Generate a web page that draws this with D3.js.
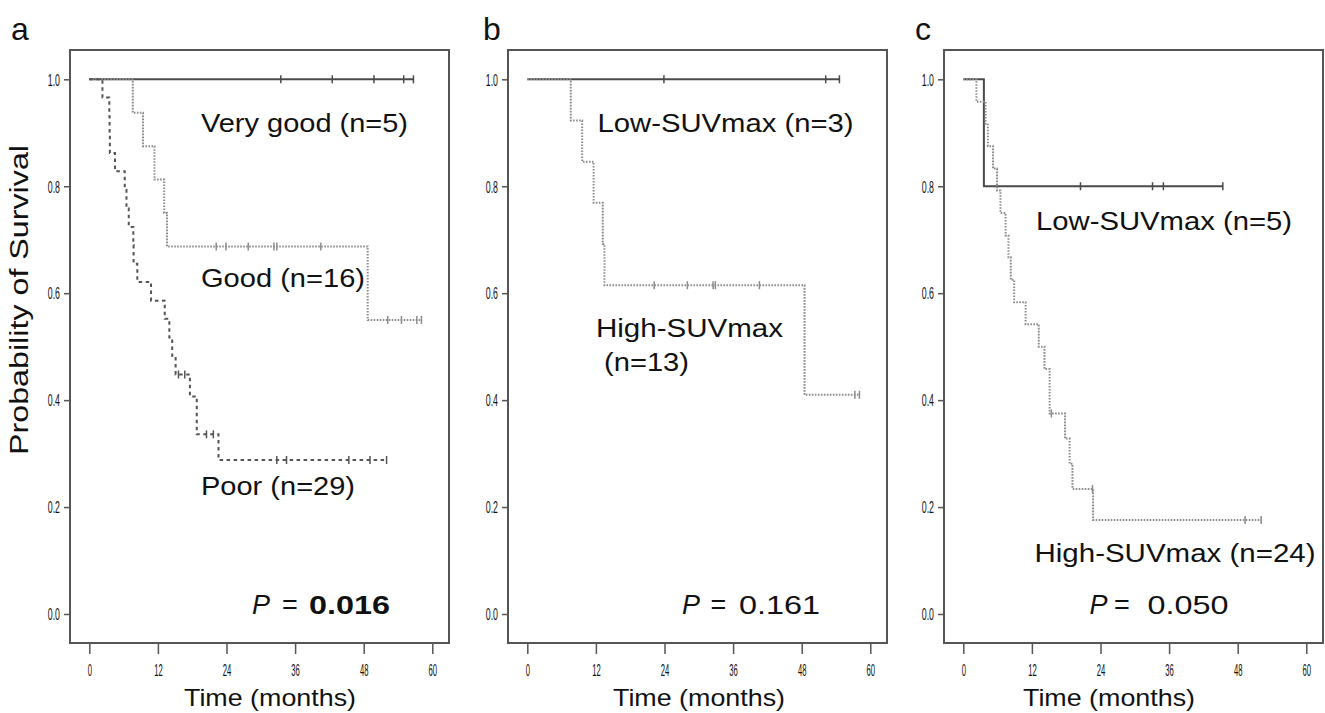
<!DOCTYPE html>
<html><head><meta charset="utf-8">
<script src="https://cdn.jsdelivr.net/npm/d3@7/dist/d3.min.js"></script>
<style>
body{margin:0;background:#fff}
svg{display:block}
text{font-family:"Liberation Sans",Arial,Helvetica,sans-serif;fill:#111}
</style>
</head><body>
<svg id="chart" width="1325" height="713"></svg>
<script>
// ---------------- DATA ----------------
const xTicks = [0, 12, 24, 36, 48, 60];
const yTicks = [0, 0.2, 0.4, 0.6, 0.8, 1.0];
const yTickLabels = ["0.0", "0.2", "0.4", "0.6", "0.8", "1.0"];
const panelLetters = ["a", "b", "c"];
const xTitle = "Time (months)";
const yTitle = "Probability of Survival";

// Panel a: each event = [time, survival after event]
const aVeryGoodEvents = [];
const aVeryGoodEnd = 56.7;
const aVeryGoodCensor = [33.5, 42.5, 49.8, 55.0, 56.7];

const aGoodEvents = [[7.6, 0.9375], [9.4, 0.875], [11.4, 0.8125], [13.1, 0.75], [13.6, 0.6875], [48.7, 0.55]];
const aGoodEnd = 58.1;
const aGoodCensor = [22.2, 23.9, 27.8, 32.3, 32.8, 40.5, 52.2, 54.6, 57.3, 58.1];

const aPoorEvents = [[2.3, 0.966], [3.5, 0.931], [3.55, 0.897], [3.6, 0.862], [4.5, 0.828], [6.2, 0.793],
  [6.5, 0.759], [6.9, 0.724], [7.7, 0.690], [7.75, 0.655], [8.4, 0.621], [10.8, 0.586], [13.2, 0.552],
  [14.0, 0.517], [14.5, 0.483], [15.1, 0.448], [17.6, 0.407], [18.8, 0.336], [22.6, 0.288]];
const aPoorEnd = 52.0;
const aPoorCensor = [15.6, 16.7, 20.5, 21.7, 32.8, 34.5, 45.4, 49.1, 52.0];

// Panel b
const bLowEvents = [];
const bLowEnd = 54.6;
const bLowCensor = [23.9, 52.2, 54.6];

const bHighEvents = [[7.6, 0.923], [9.6, 0.846], [11.6, 0.769], [13.2, 0.692], [13.5, 0.615], [48.5, 0.41]];
const bHighEnd = 58.1;
const bHighCensor = [22.2, 28.0, 32.5, 32.9, 40.6, 57.3, 58.1];

// Panel c
const cLowEvents = [[3.6, 0.8]];
const cLowEnd = 45.4;
const cLowCensor = [20.5, 33.1, 35.0, 45.4];

const cHighEvents = [[2.3, 0.958], [3.9, 0.917], [4.3, 0.875], [5.2, 0.833], [5.9, 0.792], [6.5, 0.75],
  [7.4, 0.708], [7.9, 0.667], [8.3, 0.625], [8.9, 0.583], [10.9, 0.542], [13.2, 0.5], [14.2, 0.458],
  [15.1, 0.375], [17.8, 0.328], [18.6, 0.281], [19.1, 0.234], [22.7, 0.176]];
const cHighEnd = 52.1;
const cHighCensor = [15.4, 22.6, 49.3, 52.1];

const aLabels = ["Very good (n=5)", "Good (n=16)", "Poor (n=29)"];
const bLabels = ["Low-SUVmax (n=3)", "High-SUVmax", "(n=13)"];
const cLabels = ["Low-SUVmax (n=5)", "High-SUVmax (n=24)"];
const pValues = ["0.016", "0.161", "0.050"];

// ---------------- LAYOUT ----------------
const styles = {
  solid:  {stroke: "#4a4a4a", width: 2, dash: null},
  dotted: {stroke: "#8c8c8c", width: 2, dash: "1.6,1.4"},
  dashed: {stroke: "#555", width: 2, dash: "3.5,3.5"}
};
const T = 50, B = 643;
const panels = [
  {L: 70, R: 449, letterX: 11, xTitleX: 270,
   curves: [
     {ev: aVeryGoodEvents, end: aVeryGoodEnd, cen: aVeryGoodCensor, st: "solid"},
     {ev: aGoodEvents, end: aGoodEnd, cen: aGoodCensor, st: "dotted"},
     {ev: aPoorEvents, end: aPoorEnd, cen: aPoorCensor, st: "dashed"}],
   labels: [{t: aLabels[0], x: 201, y: 131.7, w: 207}, {t: aLabels[1], x: 201, y: 287.3, w: 164},
            {t: aLabels[2], x: 201, y: 495, w: 154}],
   p: {v: pValues[0], bold: true, px: 252, eqx: 282, vx: 309, vw: 81, y: 614}},
  {L: 508, R: 887, letterX: 483, xTitleX: 699,
   curves: [
     {ev: bLowEvents, end: bLowEnd, cen: bLowCensor, st: "solid"},
     {ev: bHighEvents, end: bHighEnd, cen: bHighCensor, st: "dotted"}],
   labels: [{t: bLabels[0], x: 597.5, y: 131.7, w: 256}, {t: bLabels[1], x: 596, y: 337.3, w: 187},
            {t: bLabels[2], x: 604, y: 370.7, w: 85}],
   p: {v: pValues[1], bold: false, px: 682, eqx: 710.5, vx: 739, vw: 81, y: 614}},
  {L: 944, R: 1323, letterX: 915, xTitleX: 1109,
   curves: [
     {ev: cLowEvents, end: cLowEnd, cen: cLowCensor, st: "solid"},
     {ev: cHighEvents, end: cHighEnd, cen: cHighCensor, st: "dotted"}],
   labels: [{t: cLabels[0], x: 1036, y: 230, w: 256}, {t: cLabels[1], x: 1034.5, y: 561.7, w: 281}],
   p: {v: pValues[2], bold: false, px: 1089.5, eqx: 1114, vx: 1147.5, vw: 81, y: 613.5}}
];

// ---------------- DRAW ----------------
const svg = d3.select("#chart");

function survivalAt(ev, t) {
  let s = 1;
  for (const e of ev) { if (e[0] <= t) s = e[1]; }
  return s;
}
function stepPoints(ev, end) {
  const pts = [[0, 1]];
  let s = 1;
  for (const e of ev) { pts.push([e[0], s]); pts.push([e[0], e[1]]); s = e[1]; }
  pts.push([end, s]);
  return pts;
}

panels.forEach((p, i) => {
  const x = d3.scaleLinear().domain([0, 60]).range([p.L + 19.3, p.L + 362.3]);
  const y = d3.scaleLinear().domain([0, 1]).range([614, 79.3]);
  const g = svg.append("g");

  // frame
  g.append("rect").attr("x", p.L).attr("y", T).attr("width", p.R - p.L).attr("height", B - T)
    .attr("fill", "none").attr("stroke", "#555").attr("stroke-width", 2);

  // x axis
  const xa = g.append("g").attr("transform", `translate(0,${B + 1})`)
    .call(d3.axisBottom(x).tickValues(xTicks).tickSize(10).tickSizeOuter(0));
  xa.select(".domain").remove();
  xa.selectAll(".tick line").attr("stroke", "#555").attr("stroke-width", 1.5);
  xa.selectAll(".tick text").attr("y", 32).attr("dy", 0).attr("font-size", 17)
    .attr("fill", "#333").attr("transform", "scale(0.45,1)")
    .style("font-family", '"Liberation Sans",Arial,sans-serif');

  // y axis
  const ya = g.append("g").attr("transform", `translate(${p.L - 1},0)`)
    .call(d3.axisLeft(y).tickValues(yTicks).tickFormat((d, k) => yTickLabels[k]).tickSize(5).tickSizeOuter(0));
  ya.select(".domain").remove();
  ya.selectAll(".tick line").attr("stroke", "#555").attr("stroke-width", 1.5);
  ya.selectAll(".tick text").attr("x", -9 / 0.55).attr("dy", "0.36em").attr("font-size", 16)
    .attr("fill", "#333").attr("transform", "scale(0.55,1)")
    .style("font-family", '"Liberation Sans",Arial,sans-serif');

  // curves
  const line = d3.line().x(d => x(d[0])).y(d => y(d[1]));
  p.curves.forEach(c => {
    const st = styles[c.st];
    g.append("path").attr("d", line(stepPoints(c.ev, c.end)))
      .attr("fill", "none").attr("stroke", st.stroke).attr("stroke-width", st.width)
      .attr("stroke-dasharray", st.dash);
    g.selectAll(null).data(c.cen).enter().append("line")
      .attr("x1", d => x(d)).attr("x2", d => x(d))
      .attr("y1", d => y(survivalAt(c.ev, d)) - 4).attr("y2", d => y(survivalAt(c.ev, d)) + 4)
      .attr("stroke", st.stroke).attr("stroke-width", 1.5);
  });

  // curve labels
  p.labels.forEach(l => {
    g.append("text").attr("x", l.x).attr("y", l.y).attr("font-size", 26)
      .attr("textLength", l.w).attr("lengthAdjust", "spacingAndGlyphs").text(l.t);
  });

  // P value
  g.append("text").attr("x", p.p.px).attr("y", p.p.y).attr("font-size", 27)
    .attr("font-style", "italic").text("P");
  g.append("text").attr("x", p.p.eqx).attr("y", p.p.y).attr("font-size", 27).text("=");
  g.append("text").attr("x", p.p.vx).attr("y", p.p.y).attr("font-size", 26)
    .attr("font-weight", p.p.bold ? "bold" : "normal")
    .attr("textLength", p.p.vw).attr("lengthAdjust", "spacingAndGlyphs").text(p.p.v);

  // x title
  g.append("text").attr("x", p.xTitleX).attr("y", 706).attr("text-anchor", "middle")
    .attr("font-size", 24).attr("textLength", 172).attr("lengthAdjust", "spacingAndGlyphs").text(xTitle);

  // panel letter
  g.append("text").attr("x", p.letterX).attr("y", 40).attr("font-size", 32).text(panelLetters[i]);
});

// y title (panel a)
svg.append("text").attr("transform", "translate(28,300) rotate(-90)")
  .attr("text-anchor", "middle").attr("font-size", 25)
  .attr("textLength", 310).attr("lengthAdjust", "spacingAndGlyphs").text(yTitle);
</script>
</body></html>
